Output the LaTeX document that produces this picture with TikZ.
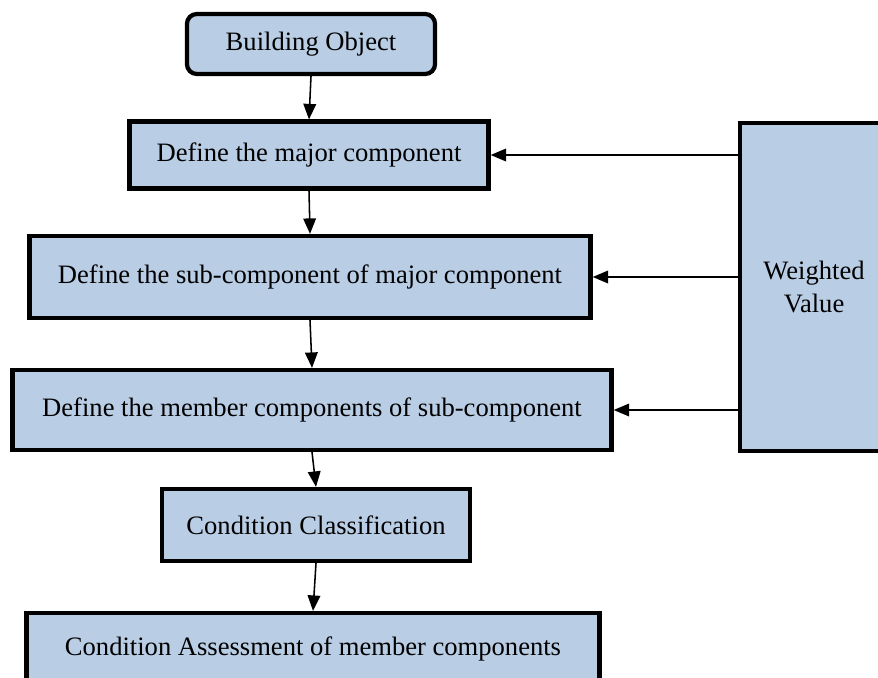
\documentclass[tikz,border=0pt]{standalone}
\usepackage{fontspec}
\setmainfont{Liberation Serif}
\usetikzlibrary{arrows.meta}
\definecolor{boxblue}{HTML}{B9CDE5}

\begin{document}
\begin{tikzpicture}[x=0.025cm,y=-0.025cm,
    box/.style={draw,line width=3pt,fill=boxblue,inner sep=0pt,align=center,
        font=\fontsize{18.9}{22.8}\selectfont},
    arr/.style={-{Triangle[length=11pt,width=9pt]},line width=1.1pt}]
    \useasboundingbox (0,0) rectangle (878,677);
    \clip (0,0) rectangle (878,677);
    \node[box,rounded corners=7pt,minimum width=6.2cm,minimum height=1.5cm] at (311,44) (obj) {Building Object};
    \node[box,minimum width=8.975cm,minimum height=1.675cm] at (309,155) (major) {Define the major component};
    \node[box,minimum width=14.025cm,minimum height=2.05cm] at (310,277) (sub) {Define the sub-component of major component};
    \node[box,minimum width=14.975cm,minimum height=2cm] at (312,410) (member) {Define the member components of sub-component};
    \node[box,minimum width=7.7cm,minimum height=1.8cm] at (316,525) (cls) {Condition Classification};
    \node[box,minimum width=14.325cm,minimum height=1.8cm] at (313,649) (assess) {Condition Assessment of member components};
    \node[box,minimum width=3.7cm,minimum height=8.2cm] at (814,287) (weight) {Weighted\\Value};
    \draw[arr] (obj.south) -- (major.north);
    \draw[arr] (major.south) -- (sub.north);
    \draw[arr] (sub.south) -- (member.north);
    \draw[arr] (member.south) -- (cls.north);
    \draw[arr] (cls.south) -- (assess.north);
    \draw[arr] (weight.west |- major.east) -- (major.east);
    \draw[arr] (weight.west |- sub.east) -- (sub.east);
    \draw[arr] (weight.west |- member.east) -- (member.east);
\end{tikzpicture}
\end{document}
